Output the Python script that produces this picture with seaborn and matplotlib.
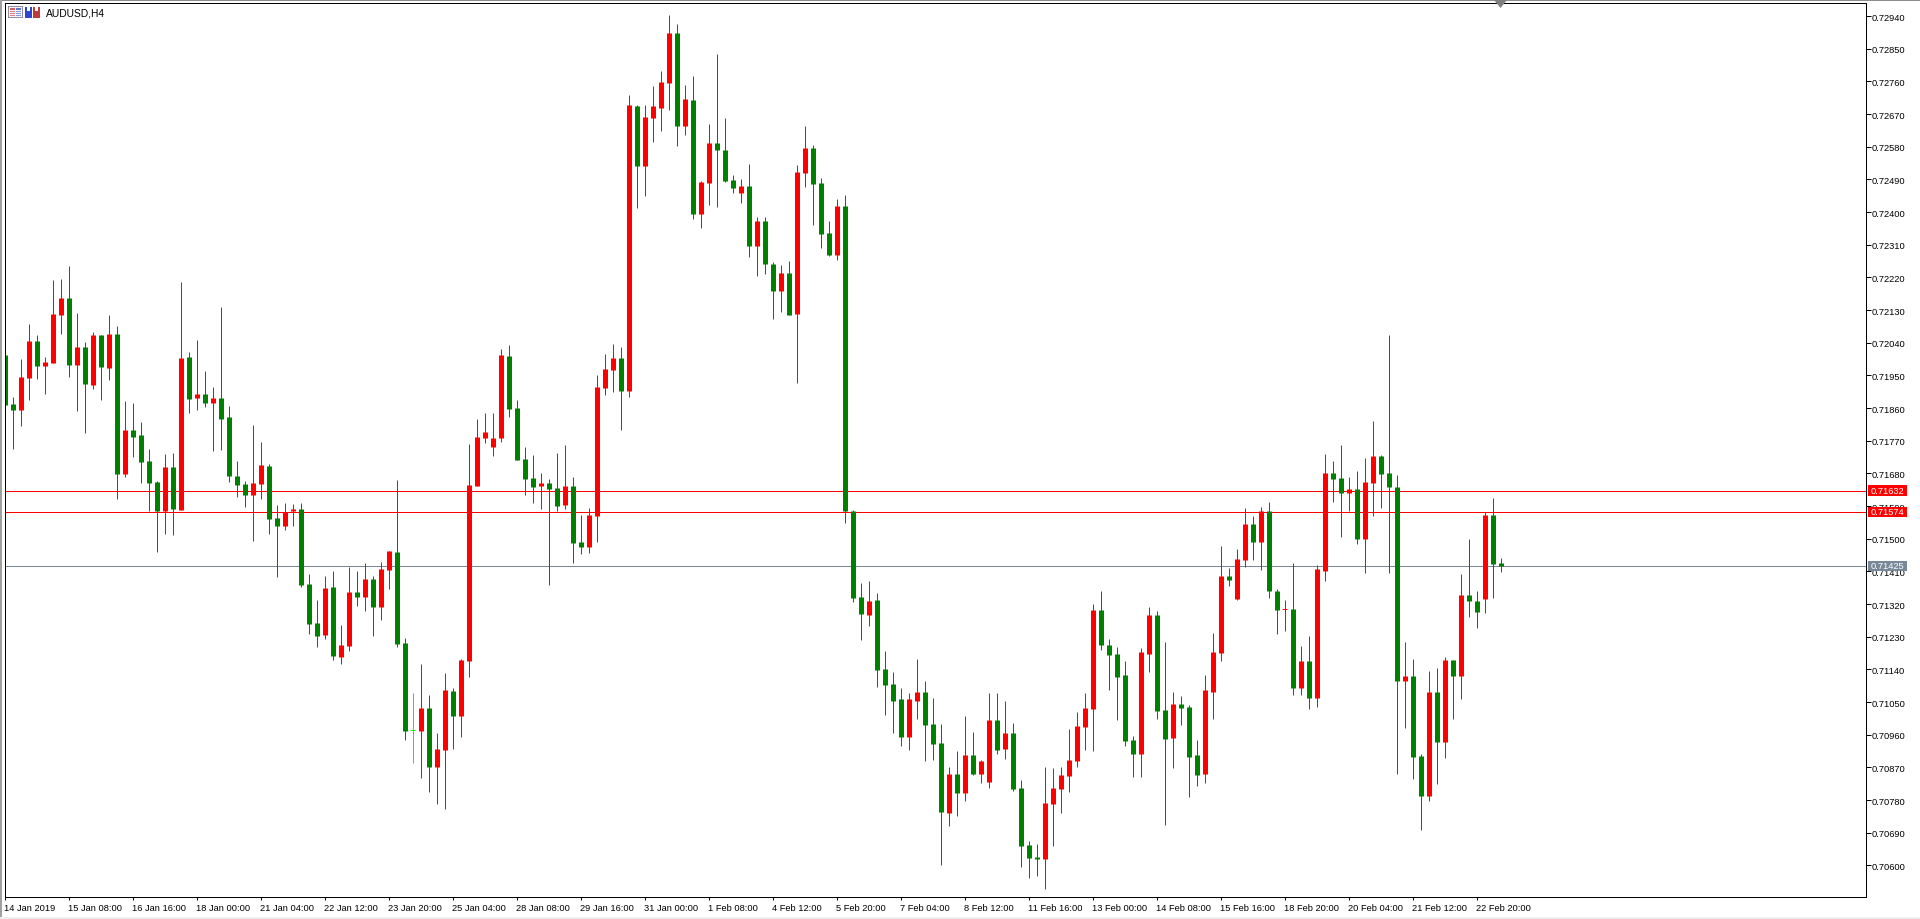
import matplotlib
matplotlib.use("Agg")
import matplotlib.pyplot as plt
from matplotlib.patches import Rectangle, Polygon
from matplotlib.transforms import Affine2D, blended_transform_factory
import numpy as np
import pandas as pd
import seaborn as sns

# AUDUSD four-hour candles, quoted in points (1 point = 0.00001)
opens = [
    72006,71871,71854,71943,72044,71976,71984,72116,72163,71978,
    72028,71923,72061,71970,72064,71678,71799,71785,71714,71656,
    71576,71697,71579,72000,71887,71898,71874,71887,71835,71673,
    71651,71620,71651,71700,71557,71535,71576,71581,71375,71267,
    71234,71367,71174,71204,71353,71339,71389,71311,71413,71463,
    71212,70972,70970,71033,70871,70918,71080,71011,71163,71645,
    71777,71752,71777,72003,71860,71719,71667,71645,71653,71639,
    71592,71645,71491,71477,71562,71915,71964,71997,71907,72692,
    72527,72659,72687,72756,72893,72637,72709,72395,72480,72590,
    72571,72488,72453,72472,72307,72375,72257,72183,72232,72119,
    72508,72577,72480,72342,72282,72417,71576,71339,71290,71331,
    71141,71100,71058,70954,71053,71078,70990,70937,70744,70852,
    70799,70904,70852,70830,71001,70921,70965,70813,70656,70623,
    70618,70769,70810,70846,70888,70981,71031,71304,71207,71182,
    71125,70945,70907,71182,71290,71028,70951,71045,71036,70904,
    70852,71078,71185,71397,71334,71441,71541,71491,71576,71356,
    71305,71306,71089,71163,71061,71411,71681,71667,71626,71637,
    71499,71654,71728,71681,71643,71108,71122,70901,70791,71078,
    70940,71166,71122,71345,71328,71334,71565,71433,
]
closes = [
    71869,71854,71945,72044,71976,71987,72119,72163,71978,72028,
    71926,72061,71973,72064,71678,71799,71780,71711,71653,71576,
    71697,71582,71998,71885,71898,71874,71887,71830,71673,71648,
    71620,71653,71703,71554,71535,71574,71582,71372,71265,71232,
    71364,71176,71207,71353,71339,71389,71311,71416,71466,71210,
    70970,70972,71033,70871,70920,71083,71011,71165,71648,71780,
    71794,71777,72006,71857,71716,71664,71642,71653,71637,71590,
    71645,71488,71477,71565,71918,71967,71997,71907,72695,72527,
    72662,72692,72758,72893,72637,72712,72395,72483,72590,72571,
    72486,72466,72472,72307,72375,72257,72183,72232,72116,72510,
    72577,72477,72340,72282,72417,71577,71337,71293,71328,71138,
    71097,71053,70954,71058,71078,70987,70934,70747,70852,70799,
    70904,70852,70888,71001,70918,70965,70810,70653,70620,70618,
    70772,70813,70849,70890,70984,71034,71304,71207,71180,71119,
    70943,70907,71188,71290,71025,70948,71045,71034,70899,70849,
    71083,71188,71397,71386,71444,71541,71491,71576,71356,71304,
    71306,71089,71163,71061,71417,71681,71665,71626,71637,71499,
    71656,71728,71678,71643,71108,71122,70899,70791,71078,70940,
    71166,71122,71345,71328,71298,71565,71430,71425,
]
highs = [
    72006,71890,71995,72091,72061,72000,72213,72215,72251,72122,
    72042,72069,72061,72116,72086,71879,71874,71821,71747,71659,
    71733,71736,72207,72014,72047,71962,71918,72138,71865,71714,
    71659,71813,71766,71706,71593,71598,71595,71598,71402,71331,
    71397,71411,71262,71422,71411,71433,71397,71435,71466,71661,
    71226,71075,71154,71069,70964,71130,71088,71168,71761,71829,
    71846,71846,72022,72033,71882,71752,71730,71681,71664,71736,
    71758,71670,71565,71584,71951,72008,72036,72028,72723,72695,
    72695,72747,72789,72943,72918,72750,72775,72486,72643,72835,
    72659,72502,72491,72532,72386,72386,72262,72254,72265,72530,
    72637,72585,72494,72375,72436,72447,71579,71378,71384,71350,
    71191,71133,71089,71075,71169,71108,71061,70990,70871,70915,
    71012,70968,70890,71075,71075,71053,70992,70835,70667,70659,
    70871,70868,70871,70976,71023,71075,71320,71356,71224,71202,
    71163,70956,71199,71312,71301,71215,71078,71067,71042,70945,
    71125,71240,71480,71419,71472,71585,71563,71587,71601,71362,
    71331,71433,71205,71232,71428,71733,71714,71758,71670,71687,
    71722,71824,71731,72061,71676,71216,71169,70907,71136,71144,
    71174,71166,71403,71499,71356,71574,71612,71447,
]
lows = [
    71869,71747,71810,71882,71940,71898,71984,72064,71945,71852,
    71791,71912,71882,71937,71609,71670,71725,71653,71576,71463,
    71513,71510,71579,71846,71854,71863,71741,71744,71656,71615,
    71587,71493,71609,71513,71394,71524,71535,71367,71237,71201,
    71223,71165,71154,71190,71314,71300,71232,71276,71361,71201,
    70945,70882,70840,70802,70769,70755,70920,70953,71119,71645,
    71763,71727,71766,71835,71716,71620,71598,71581,71372,71576,
    71581,71433,71458,71460,71491,71896,71904,71799,71891,72411,
    72444,72593,72623,72681,72582,72612,72381,72356,72419,72414,
    72483,72453,72425,72276,72224,72229,72105,72125,72116,71929,
    72469,72364,72301,72279,72268,71543,71326,71221,71260,71091,
    71014,70965,70929,70918,71003,70888,70890,70601,70709,70736,
    70777,70849,70827,70813,70907,70893,70805,70596,70565,70571,
    70535,70653,70744,70802,70871,70918,70915,71193,71083,71001,
    70929,70844,70844,71133,71003,70711,70868,70987,70788,70819,
    70827,71003,71163,71370,71331,71422,71441,71414,71337,71238,
    71246,71070,71070,71031,71036,71384,71601,71505,71576,71486,
    71406,71563,71585,71406,70852,70979,70838,70698,70778,70824,
    70896,71003,71059,71284,71254,71295,71337,71408,
]

symbol_label = "AUDUSD,H4"
time_labels = [
    "14 Jan 2019", "15 Jan 08:00", "16 Jan 16:00", "18 Jan 00:00", "21 Jan 04:00",
    "22 Jan 12:00", "23 Jan 20:00", "25 Jan 04:00", "28 Jan 08:00", "29 Jan 16:00",
    "31 Jan 00:00", "1 Feb 08:00", "4 Feb 12:00", "5 Feb 20:00", "7 Feb 04:00",
    "8 Feb 12:00", "11 Feb 16:00", "13 Feb 00:00", "14 Feb 08:00", "15 Feb 16:00",
    "18 Feb 20:00", "20 Feb 04:00", "21 Feb 12:00", "22 Feb 20:00",
]
time_ticks = list(range(0, 192, 8))
price_ticks = [72940 - 90 * k for k in range(27)]
level_prices = [71632, 71574, 71425]
level_colors = ["#ff0000", "#ff0000", "#778899"]

UP, DOWN, FLAT = "#ff0000", "#008000", "#00ff00"
POINT = 1e-5

sns.set_theme(style="white", rc={
    "lines.solid_capstyle": "butt",
    "axes.edgecolor": "black",
    "axes.linewidth": 0.72,
    "xtick.color": "black",
    "ytick.color": "black",
    "figure.facecolor": "white",
    "axes.facecolor": "white",
})
plt.rcParams["font.family"] = ["Liberation Sans", "DejaVu Sans"]
FONT_PT = 6.7

candles = pd.DataFrame({
    "bar": np.arange(len(opens)),
    "open": np.array(opens) * POINT,
    "high": np.array(highs) * POINT,
    "low": np.array(lows) * POINT,
    "close": np.array(closes) * POINT,
})
candles["tone"] = np.where(candles["close"] > candles["open"], "up",
                           np.where(candles["close"] < candles["open"], "down", "flat"))
palette = {"up": UP, "down": DOWN, "flat": FLAT}
px_per_inch = 100
line_pt = 72 / px_per_inch

fig = plt.figure(figsize=(19.2, 9.2), dpi=px_per_inch)
W, H = 1920, 920
ax = fig.add_axes([4.5 / W, (H - 897.5) / H, (1865.5 - 4.5) / W, (897.5 - 3.5) / H])

# horizontal price levels sit behind the candles
for price, colour in zip(level_prices, level_colors):
    ax.axhline(price * POINT, color=colour, lw=line_pt, zorder=1)

# wicks: one two-point line per bar
wicks = candles.melt(id_vars=["bar", "tone"], value_vars=["low", "high"], value_name="price")
sns.lineplot(data=wicks, x="bar", y="price", units="bar", hue="tone", palette=palette,
             estimator=None, sort=False, legend=False, lw=line_pt, ax=ax, zorder=2)

# bodies: the same construction with a wider stroke
thin = (candles["open"] - candles["close"]).abs() < 3 * POINT
bodies = candles[~thin].melt(id_vars=["bar", "tone"], value_vars=["open", "close"], value_name="price")
sns.lineplot(data=bodies, x="bar", y="price", units="bar", hue="tone", palette=palette,
             estimator=None, sort=False, legend=False, lw=5 * line_pt, ax=ax, zorder=2)

# bars that barely move are drawn as a short dash
dashes = candles[thin]
ax.hlines(dashes["close"], dashes["bar"] - 0.3, dashes["bar"] + 0.3,
          colors=[palette[t] for t in dashes["tone"]], lw=line_pt, zorder=2)

ax.set_xlim(0, (1865.5 - 4.5) / 8)
ax.set_ylim(70514.2 * POINT, 72977.2 * POINT)
ax.set_xlabel("")
ax.set_ylabel("")

ax.yaxis.tick_right()
ax.set_yticks([p * POINT for p in price_ticks])
ax.set_yticklabels([f"{p * POINT:.5f}" for p in price_ticks], fontsize=FONT_PT)
ax.tick_params(axis="y", which="major", length=3.4, width=line_pt, pad=0.9, right=True, left=False)
ax.set_xticks(time_ticks)
ax.set_xticklabels(time_labels, fontsize=FONT_PT, ha="left")
ax.tick_params(axis="x", which="major", length=2.4, width=line_pt, pad=2.5, bottom=True)
for spine in ax.spines.values():
    spine.set_visible(True)
    spine.set_color("black")
    spine.set_linewidth(line_pt)

# window furniture, addressed in device pixels from the top-left corner
px = Affine2D().scale(1, -1).translate(0, H)


def box(x, y, w, h, colour, **kw):
    fig.add_artist(Rectangle((x, y), w, h, transform=px, facecolor=colour, edgecolor="none", **kw))


box(0, 0, 1920, 1.5, "#8c8c8c")
box(0, 0, 2, 918, "#a0a0a0")
box(0, 918, 1920, 2, "#eeeeee")

# chart header: two small toolbar icons and the symbol caption
box(8, 7, 15, 12, "#8f8f9f")
box(9, 8, 13, 10, "#f4f4f8")
box(10, 9, 5, 2, "#d06060")
box(16, 9, 5, 2, "#5a78d0")
for row in (12, 14, 16):
    box(10, row, 5, 1, "#e08080")
    box(16, row, 5, 1, "#8098e0")
box(25, 8, 7, 11, "#2f45d0")
box(27, 8, 3, 4, "#ffffff")
box(33, 8, 7, 11, "#c03a3a")
box(35, 8, 3, 4, "#ffffff")
fig.text(45.5 / W, 1 - 13.5 / H, symbol_label, fontsize=7.4, color="black", ha="left", va="center")

# shift marker on the top edge, drawn over the frame
fig.add_artist(Polygon([(1494, 1), (1507, 1), (1500.5, 9)], closed=True, transform=px,
                       facecolor="#808080", edgecolor="none", zorder=10))

# coloured price tags on the right-hand scale cover the plain tick labels
tag_tf = blended_transform_factory(px, ax.transData)
tag_h = 10.6 * 2.755 * POINT
for price, colour in zip(level_prices, level_colors):
    y = price * POINT
    ax.add_patch(Rectangle((1868, y - tag_h / 2), 39, tag_h, transform=tag_tf, facecolor=colour,
                           edgecolor="none", clip_on=False, zorder=5))
    ax.text(1871, y, f"{y:.5f}", transform=tag_tf, color="white", fontsize=FONT_PT,
            ha="left", va="center", clip_on=False, zorder=6)

fig.savefig("out.png", dpi=px_per_inch, facecolor="white")
